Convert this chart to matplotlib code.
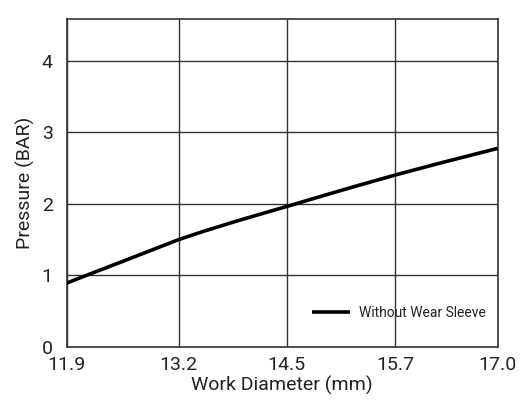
import matplotlib
matplotlib.use("Agg")
import matplotlib.pyplot as plt
from matplotlib import font_manager

# Work diameter (mm) vs. pressure (BAR)
diameter_mm = [11.900, 12.137, 12.610, 13.004, 13.229, 13.516, 13.912, 14.306,
               14.542, 14.936, 15.332, 15.785, 16.318, 17.000]
pressure_bar = [0.890, 1.000, 1.215, 1.397, 1.500, 1.613, 1.758, 1.894,
                1.975, 2.113, 2.250, 2.401, 2.569, 2.775]

x_tick_pos = [11.9, 13.225, 14.504, 15.785, 17.0]
x_tick_labels = ["11.9", "13.2", "14.5", "15.7", "17.0"]
y_ticks = [0, 1, 2, 3, 4]
series_label = "Without Wear Sleeve"

names = {f.name for f in font_manager.fontManager.ttflist}
family = "Liberation Sans Narrow" if "Liberation Sans Narrow" in names else "Roboto"
plt.rcParams["font.family"] = [family, "DejaVu Sans"]

fig = plt.figure(figsize=(5.23, 4.03), dpi=100)
ax = fig.add_axes([0.1275, 0.1397, 0.9516 - 0.1275, 0.952 - 0.1397])

ax.plot(diameter_mm, pressure_bar, color="black", lw=2.6,
        solid_capstyle="butt", solid_joinstyle="round",
        label=series_label, zorder=3)

ax.set_xlim(11.9, 17.0)
ax.set_ylim(0, 4.58)
ax.set_xticks(x_tick_pos)
ax.set_xticklabels(x_tick_labels)
ax.set_yticks(y_ticks)
ax.tick_params(length=0, labelsize=14, colors="#222222")
ax.tick_params(axis="x", pad=7)
ax.tick_params(axis="y", pad=10)
ax.grid(True, color="#333333", lw=1.0)
for s in ax.spines.values():
    s.set_color("#333333")
    s.set_linewidth(1.2)

ax.set_xlabel("Work Diameter (mm)", fontsize=14, color="#222222", labelpad=1)
ax.set_ylabel("Pressure (BAR)", fontsize=14, color="#222222", labelpad=5)

leg = ax.legend(loc="lower right", frameon=False, fontsize=10,
                handlelength=2.7, handletextpad=0.65,
                borderaxespad=0, bbox_to_anchor=(0.985, 0.065))
for t in leg.get_texts():
    t.set_color("#222222")

fig.savefig("out.png", dpi=100)
